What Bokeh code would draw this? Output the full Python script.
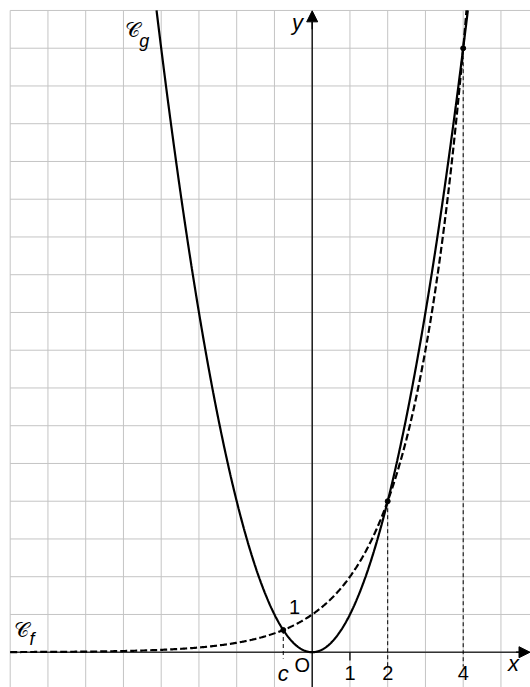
import numpy as np
from bokeh.plotting import figure
from bokeh.models import Arrow, NormalHead
from bokeh.core.properties import value
from bokeh.embed import file_html
from bokeh.resources import INLINE

# Functions: f(x) = 2^x (dashed), g(x) = x^2 (solid)
x_min, x_max = -8.257, 5.783
y_min, y_max = -0.935, 17.264
grid_x = list(range(-8, 6))
grid_y = list(range(0, 18))
x_ticks = [1, 2, 4]
x_tick_labels = ["1", "2", "4"]
intersections_x = [2.0, 4.0]
c_value = -0.7667  # negative root of 2^x = x^2

p = figure(width=530, height=687, x_range=(x_min, x_max), y_range=(y_min, y_max),
           output_backend="svg", toolbar_location=None, min_border=0,
           background_fill_color="white", border_fill_color="white")
p.axis.visible = False
p.grid.visible = False
p.outline_line_color = None

# Square grid
gc = "#c4c4c4"
p.segment(x0=grid_x, y0=[y_min] * len(grid_x), x1=grid_x, y1=[17] * len(grid_x),
          line_color=gc, line_width=1)
p.segment(x0=[-8] * len(grid_y), y0=grid_y, x1=[x_max] * len(grid_y), y1=grid_y,
          line_color=gc, line_width=1)

# Axes with arrows
p.segment(x0=[-8], y0=[0], x1=[5.6], y1=[0], line_color="#333333", line_width=1.6)
p.segment(x0=[0], y0=[y_min], x1=[0], y1=[16.7], line_color="black", line_width=1.3)
p.add_layout(Arrow(end=NormalHead(size=11, fill_color="black", line_color="black", line_width=1),
                   x_start=5.4, y_start=0, x_end=5.77, y_end=0, line_color="black", line_width=1.3))
p.add_layout(Arrow(end=NormalHead(size=11, fill_color="black", line_color="black", line_width=1),
                   x_start=0, y_start=16.5, x_end=0, y_end=16.99, line_color="black", line_width=1.3))

# Tick at x = 1
p.segment(x0=[1], y0=[0], x1=[1], y1=[-0.22], line_color="black", line_width=1.3)

# Curves
xs_g = np.linspace(-np.sqrt(17), np.sqrt(17), 600)
p.line(xs_g, xs_g ** 2, line_color="black", line_width=2.2)
xs_f = np.linspace(-8, np.log2(17), 600)
p.line(xs_f, 2.0 ** xs_f, line_color="black", line_width=2.2, line_dash="7 3")

# Dashed guides from intersection points to the x-axis
guide_x = [c_value] + intersections_x
guide_top = [2.0 ** c_value] + [v ** 2 for v in intersections_x]
guide_bottom = [-0.17, -0.38, -0.38]
p.segment(x0=guide_x, y0=guide_top, x1=guide_x, y1=guide_bottom,
          line_color="black", line_width=1, line_dash="4 3")
p.scatter(guide_x, guide_top, size=5, color="black")

font = value("Liberation Sans")
# Tick labels
p.text(x=x_ticks, y=[-0.54] * 3, text=x_tick_labels, text_font=font, text_font_size="20px",
       text_align="center", text_baseline="middle", text_color="black")
p.text(x=[-0.47], y=[1.19], text=["1"], text_font=font, text_font_size="20px",
       text_align="center", text_baseline="middle")
p.text(x=[-0.26], y=[-0.34], text=["O"], text_font=font, text_font_size="20px",
       text_align="center", text_baseline="middle")
p.text(x=[c_value], y=[-0.56], text=["c"], text_font=font, text_font_size="22px",
       text_font_style="italic", text_align="center", text_baseline="middle")
p.text(x=[5.33], y=[-0.30], text=["x"], text_font=font, text_font_size="22px",
       text_font_style="italic", text_align="center", text_baseline="middle")
p.text(x=[-0.39], y=[16.67], text=["y"], text_font=font, text_font_size="22px",
       text_font_style="italic", text_align="center", text_baseline="middle")

# Curve names
p.text(x=[-4.77], y=[16.47], text=["𝒞"], text_font=value("DejaVu Sans"), text_font_size="21px",
       text_align="center", text_baseline="middle")
p.text(x=[-4.45], y=[16.2], text=["g"], text_font=font, text_font_size="18px",
       text_font_style="italic", text_align="center", text_baseline="middle")
p.text(x=[-7.7], y=[0.58], text=["𝒞"], text_font=value("DejaVu Sans"), text_font_size="21px",
       text_align="center", text_baseline="middle")
p.text(x=[-7.42], y=[0.36], text=["f"], text_font=font, text_font_size="18px",
       text_font_style="italic", text_align="center", text_baseline="middle")

open("out.html", "w").write(file_html(p, INLINE))
